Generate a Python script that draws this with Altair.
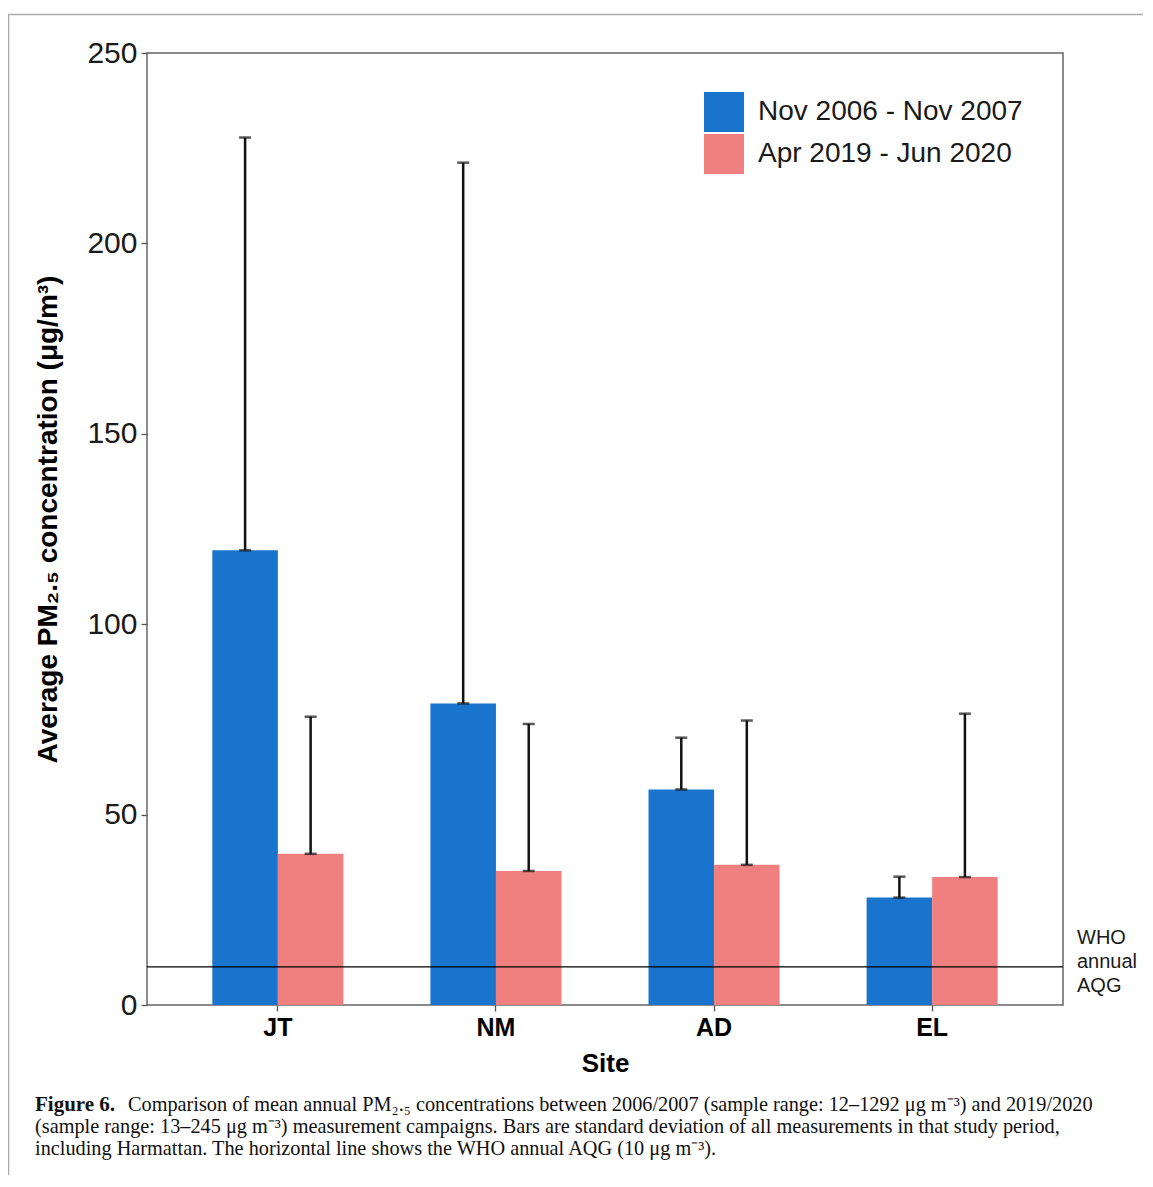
import altair as alt
import pandas as pd

sites = ["JT", "NM", "AD", "EL"]
periods = ["Nov 2006 - Nov 2007", "Apr 2019 - Jun 2020"]
mean_2006 = [119.4, 79.2, 56.6, 28.2]
sd_2006 = [108.4, 142.0, 13.6, 5.5]
mean_2019 = [39.7, 35.2, 36.8, 33.6]
sd_2019 = [36.0, 38.6, 37.9, 42.9]
colors = ["#1874CD", "#F08080"]
y_ticks = [0, 50, 100, 150, 200, 250]
who_aqg = 10

caption_head = "Figure 6."
caption_1 = "Comparison of mean annual PM₂.₅ concentrations between 2006/2007 (sample range: 12–1292 μg m⁻³) and 2019/2020"
caption_2 = "(sample range: 13–245 μg m⁻³) measurement campaigns. Bars are standard deviation of all measurements in that study period,"
caption_3 = "including Harmattan. The horizontal line shows the WHO annual AQG (10 μg m⁻³)."

rows = []
for i, s in enumerate(sites):
    rows.append(dict(site=s, period=periods[0], mean=mean_2006[i], upper=mean_2006[i] + sd_2006[i]))
    rows.append(dict(site=s, period=periods[1], mean=mean_2019[i], upper=mean_2019[i] + sd_2019[i]))
df = pd.DataFrame(rows)

W, H = 916, 952
FONT = "Liberation Sans"

x = alt.X(
    "site:N", sort=sites,
    scale=alt.Scale(paddingInner=0, paddingOuter=0.1),
    axis=alt.Axis(
        title="Site", labelAngle=0, labelFontSize=25, labelFontWeight="bold",
        labelColor="#000", labelPadding=4, tickSize=6, tickColor="#555", tickWidth=1.3,
        domain=False, titleFontSize=26, titleFontWeight="bold", titleColor="#000",
        titlePadding=10, labelFont=FONT, titleFont=FONT,
    ),
)
xo = alt.XOffset("period:N", sort=periods, scale=alt.Scale(paddingInner=0, paddingOuter=0.664))
yaxis = alt.Axis(
    title="Average PM₂.₅ concentration (μg/m³)", values=y_ticks, labelFontSize=30,
    labelColor="#1a1a1a", labelPadding=4, tickSize=6, tickColor="#555", tickWidth=1.3,
    domain=False, grid=False, titleFontSize=28, titleFontWeight="bold", titleColor="#000",
    titlePadding=24, titleY=466, labelFont=FONT, titleFont=FONT,
)
yscale = alt.Scale(domain=[0, 250], nice=False, zero=True)

base = alt.Chart(df)

bars = base.mark_bar().encode(
    x=x, xOffset=xo,
    y=alt.Y("mean:Q", scale=yscale, axis=yaxis),
    color=alt.Color(
        "period:N", sort=periods,
        scale=alt.Scale(domain=periods, range=colors),
        legend=alt.Legend(
            title=None, orient="none", legendX=557, legendY=39,
            symbolType="square", symbolSize=1600, symbolStrokeWidth=0,
            symbolOpacity=1, labelFontSize=28, labelFont=FONT, labelColor="#1a1a1a",
            labelOffset=14, rowPadding=2, padding=0, labelLimit=0,
        ),
    ),
)

err = base.mark_rule(color="#111", strokeWidth=2.5).encode(
    x=x, xOffset=xo, y="mean:Q", y2="upper:Q"
)
cap_lo = base.mark_tick(color="#111", thickness=2.5, size=12).encode(
    x=x, xOffset=xo, y="mean:Q"
)
cap_hi = base.mark_tick(color="#111", thickness=2.5, size=12).encode(
    x=x, xOffset=xo, y="upper:Q"
)

ann = pd.DataFrame({"v": [who_aqg]})
who_line = alt.Chart(ann).mark_rule(color="#000", strokeWidth=1.3).encode(y=alt.Y("v:Q"))
who_text = alt.Chart(ann).mark_text(
    text="WHO\nannual\nAQG", lineBreak="\n", lineHeight=24, align="left",
    baseline="middle", fontSize=20, font=FONT, color="#1a1a1a", dy=-29,
).encode(x=alt.value(W + 14), y=alt.Y("v:Q"))

frame = alt.Chart(ann).mark_rect(fill="transparent", stroke="#aaa", strokeWidth=1.5).encode(
    x=alt.value(-138.5), y=alt.value(-38.5), x2=alt.value(1200), y2=alt.value(1400)
)

SERIF = "Liberation Serif"
cap_style = dict(align="left", baseline="middle", font=SERIF, color="#111")
c0 = alt.Chart(ann).mark_text(text=caption_head, fontWeight="bold", fontSize=21, **cap_style).encode(
    x=alt.value(-112), y=alt.value(1052))
c1 = alt.Chart(ann).mark_text(text=caption_1, fontSize=20.3, **cap_style).encode(
    x=alt.value(-19), y=alt.value(1052))
c2 = alt.Chart(ann).mark_text(text=caption_2, fontSize=20.3, **cap_style).encode(
    x=alt.value(-112), y=alt.value(1074))
c3 = alt.Chart(ann).mark_text(text=caption_3, fontSize=20.3, **cap_style).encode(
    x=alt.value(-112), y=alt.value(1096))

chart = alt.layer(bars, who_line, err, cap_lo, cap_hi, who_text, frame, c0, c1, c2, c3).properties(
    width=W, height=H,
    autosize=alt.AutoSizeParams(type="none"),
    padding={"left": 139, "top": 45, "right": 80, "bottom": 170},
    background="white",
).configure_view(stroke="#666", strokeWidth=1.5)

chart.save("out.html", embed_options={"renderer": "svg", "actions": False})
